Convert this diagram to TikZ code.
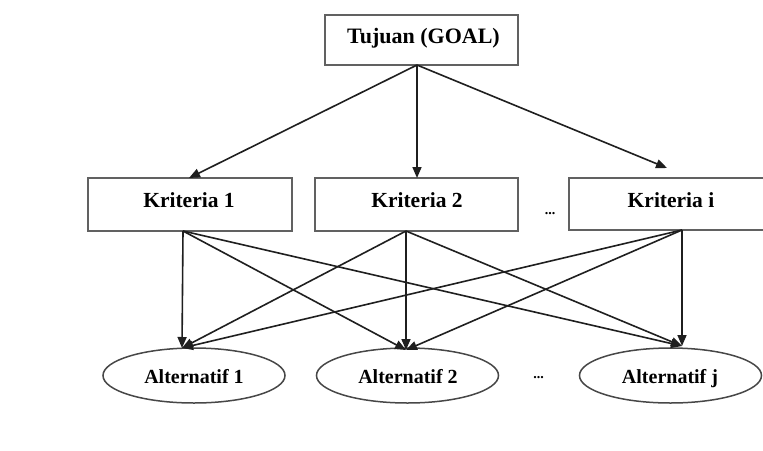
\documentclass[tikz,border=0pt]{standalone}
\usepackage{fontspec}
\setmainfont{Liberation Serif}
\usetikzlibrary{arrows.meta,shapes.geometric}

\begin{document}
\begin{tikzpicture}[x=1pt,y=-1pt,
  box/.style={draw=black!62, line width=1.8pt, fill=white, inner sep=0pt},
  altnode/.style={ellipse, draw=black!72, line width=1.5pt, fill=white, inner sep=0pt,
    minimum width=182pt, minimum height=55pt},
  lbl/.style={anchor=base, inner sep=0pt, font=\bfseries},
  dots/.style={anchor=base, inner sep=0pt, font=\fontsize{14}{14}\selectfont\bfseries},
  conn/.style={draw=black!88, line width=1.6pt,
    -{Triangle[length=11pt,width=9pt]}}]

\useasboundingbox (0,0) rectangle (763,450);
\fill[white] (0,0) rectangle (763,450);

% goal
\node[box, minimum width=193pt, minimum height=50pt] (goal) at (421.5,40) {};
\node[lbl, font=\fontsize{22}{22}\selectfont\bfseries] (goalt) at (423.5,43) {Tujuan (GOAL)};

% criteria
\node[box, minimum width=204pt, minimum height=53pt] (k1) at (190,204.5) {};
\node[box, minimum width=203pt, minimum height=53pt] (k2) at (416.5,204.5) {};
\node[box, minimum width=204pt, minimum height=52pt] (ki) at (671,204) {};
\node[lbl, font=\fontsize{21.5}{21.5}\selectfont\bfseries] (k1t) at (189,207) {Kriteria 1};
\node[lbl, font=\fontsize{21.5}{21.5}\selectfont\bfseries] (k2t) at (417,207) {Kriteria 2};
\node[lbl, font=\fontsize{21.5}{21.5}\selectfont\bfseries] (kit) at (671,207) {Kriteria i};
\node[dots] (kdots) at (550,214) {...};

% alternatives
\node[altnode] (a1) at (194,375.5) {};
\node[altnode] (a2) at (407.5,375.5) {};
\node[altnode] (aj) at (670.5,375.5) {};
\node[lbl, font=\fontsize{20}{20}\selectfont\bfseries] (a1t) at (194,383) {Alternatif 1};
\node[lbl, font=\fontsize{20}{20}\selectfont\bfseries] (a2t) at (408,383) {Alternatif 2};
\node[lbl, font=\fontsize{20}{20}\selectfont\bfseries] (ajt) at (670,383) {Alternatif j};
\node[dots] (adots) at (538.5,378) {...};

% connector ends
\coordinate (gout) at (417,65);
\coordinate (k1in) at (189,178);
\coordinate (k2in) at (417,178);
\coordinate (kiin) at (667,168);
\coordinate (k1out) at (183,231);
\coordinate (k2out) at (406,231);
\coordinate (kiout) at (682,230);
\coordinate (a1in) at (182,348);
\coordinate (a2in) at (406,350);
\coordinate (ajin) at (682,346);

% goal to criteria
\draw[conn] (gout) -- (k1in);
\draw[conn] (gout) -- (k2in);
\draw[conn] (gout) -- (kiin);

% criteria to alternatives
\foreach \k in {k1out,k2out,kiout}
  \foreach \a in {a1in,a2in,ajin}
    \draw[conn] (\k) -- (\a);

\end{tikzpicture}
\end{document}
